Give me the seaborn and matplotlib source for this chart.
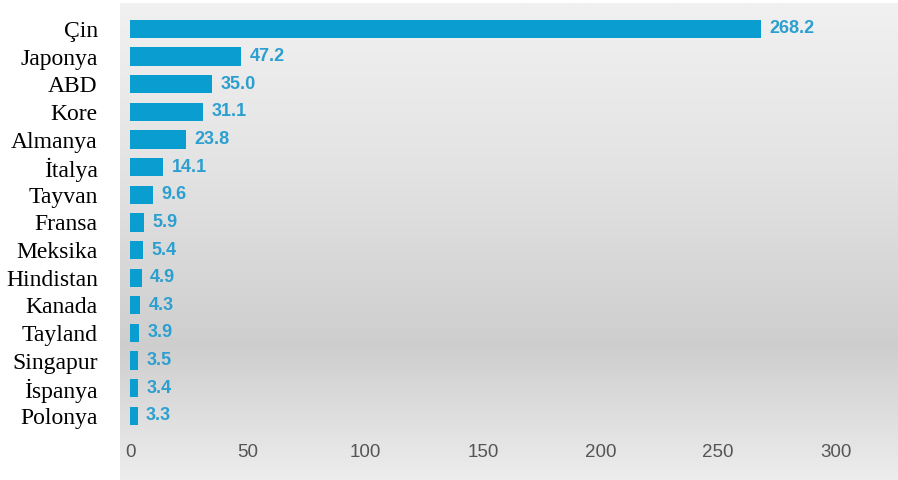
import numpy as np
import pandas as pd
import matplotlib
matplotlib.use("Agg")
import matplotlib.pyplot as plt
import seaborn as sns
from matplotlib.colors import LinearSegmentedColormap

# Data
countries = ["Çin", "Japonya", "ABD", "Kore", "Almanya", "İtalya", "Tayvan", "Fransa",
             "Meksika", "Hindistan", "Kanada", "Tayland", "Singapur", "İspanya", "Polonya"]
values = [268.2, 47.2, 35.0, 31.1, 23.8, 14.1, 9.6, 5.9, 5.4, 4.9, 4.3, 3.9, 3.5, 3.4, 3.3]
x_ticks = [0, 50, 100, 150, 200, 250, 300]

df = pd.DataFrame({"Country": countries, "Value": values})

sns.set_style("white")
fig = plt.figure(figsize=(8.98, 4.80), dpi=100)
fig.patch.set_facecolor("white")
ax = fig.add_axes([120 / 898, 0.0, 778 / 898, 477 / 480])

bar_color = "#0a9dcf"
sns.barplot(data=df, x="Value", y="Country", orient="h", color=bar_color,
            width=0.66, saturation=1, linewidth=0, ax=ax, zorder=3)

# panel limits so 0 sits at x=130px and 300 at x=836px
xlim = (-4.25, 326.4)
ylim = (16.32, -0.94)

# gray gradient background
grad_cmap = LinearSegmentedColormap.from_list(
    "bg", [(0.0, "#f1f1f1"), (0.35, "#e3e3e3"), (0.72, "#cecece"), (1.0, "#ededed")])
grad = np.linspace(0, 1, 256).reshape(-1, 1)
ax.imshow(grad, cmap=grad_cmap, aspect="auto", extent=[xlim[0], xlim[1], ylim[0], ylim[1]],
          zorder=0, vmin=0, vmax=1)
ax.set_xlim(*xlim)
ax.set_ylim(*ylim)

# value labels
for c in ax.containers:
    ax.bar_label(c, labels=[f"{v:.1f}" for v in values], padding=6,
                 color="#2a9fd0", fontsize=13, fontweight="bold",
                 family="Liberation Sans")

# country labels
ax.set_yticks(range(len(countries)))
ax.set_yticklabels(countries, family="Liberation Serif", fontsize=17, color="black")
ax.tick_params(axis="y", length=0, pad=16)

# x tick labels inside the panel
ax.set_xticks(x_ticks)
ax.set_xticklabels([str(t) for t in x_ticks], family="Liberation Sans",
                   fontsize=13.5, color="#555555")
ax.tick_params(axis="x", length=0, pad=-26)

ax.set_xlabel("")
ax.set_ylabel("")
for s in ax.spines.values():
    s.set_visible(False)

fig.savefig("out.png", dpi=100)
